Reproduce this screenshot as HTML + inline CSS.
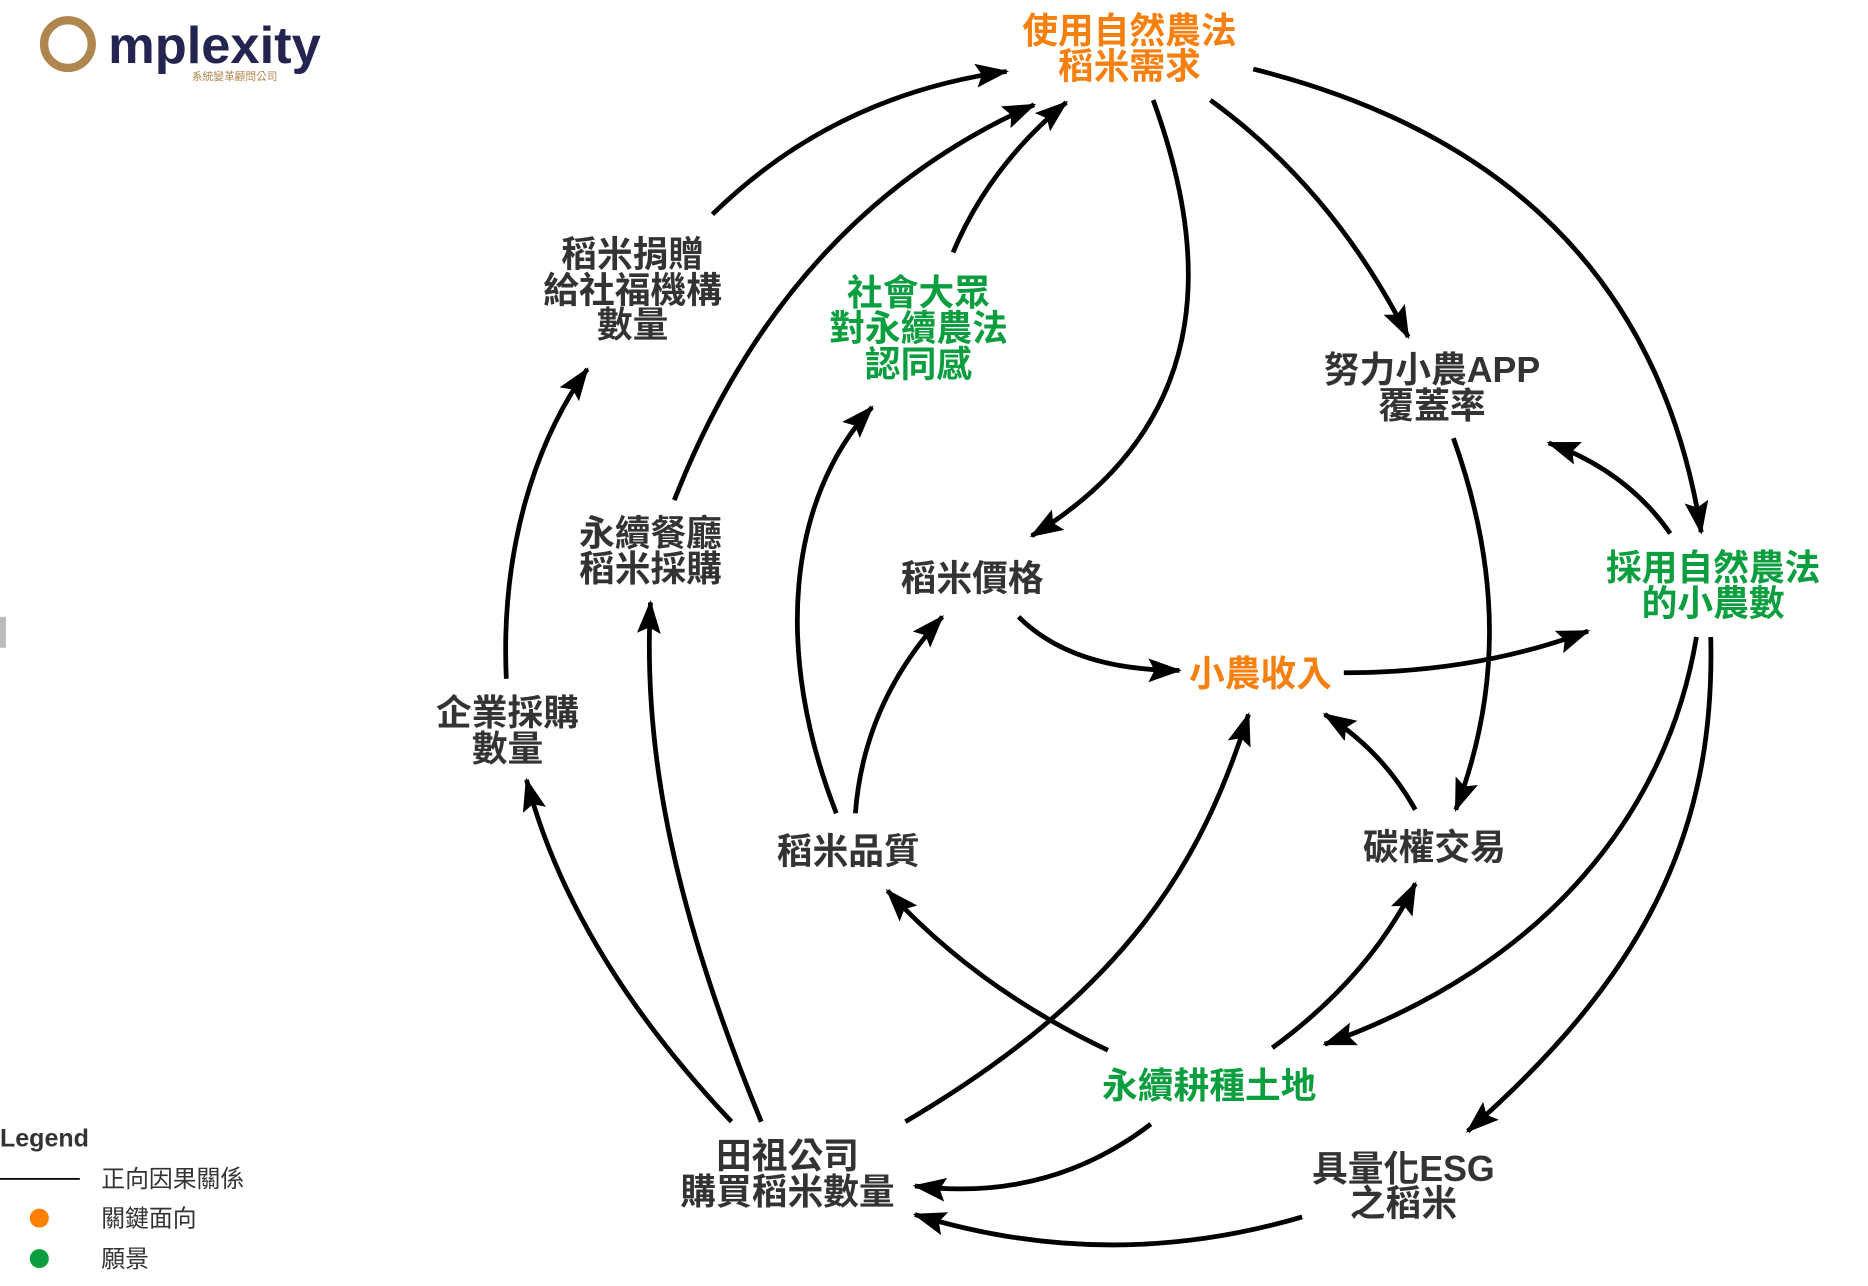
<!DOCTYPE html>
<html><head><meta charset="utf-8"><style>
html,body{margin:0;padding:0;background:#fff;width:1868px;height:1286px;overflow:hidden}
svg{display:block}
text{font-family:"Liberation Sans","Noto Sans CJK TC",sans-serif;font-weight:bold;text-anchor:middle}
.d{fill:#333}.o{fill:#f5800f}.g{fill:#0a9e3f}
path.e{fill:none;stroke:#000;stroke-width:4;marker-end:url(#a)}
</style></head><body>
<svg width="1868" height="1286" viewBox="0 0 1568 1080" preserveAspectRatio="none">
<defs><marker id="a" markerUnits="userSpaceOnUse" markerWidth="30" markerHeight="24" refX="26" refY="10" orient="auto"><path d="M0,0 L28,10 L0,20 L5,10 Z" fill="#000"/></marker></defs>
<!-- logo -->
<circle cx="57" cy="37" r="20" fill="none" stroke="#b08650" stroke-width="7"/>
<text x="180" y="53" style="font-size:44px;fill:#232550;font-family:'Liberation Sans',sans-serif" >mplexity</text>
<text x="197" y="67" style="font-size:9px;fill:#b08650;font-weight:normal">系統變革顧問公司</text>
<rect x="0" y="518" width="5" height="26" fill="#bbb"/>
<!-- edges -->
<path class="e" d="M598,180 Q700,80 845,60"/>
<path class="e" d="M566,420 Q660,180 868,88"/>
<path class="e" d="M800,212 Q830,140 895,86"/>
<path class="e" d="M968,84 C1010,200 1030,350 866,450"/>
<path class="e" d="M1016,84 Q1120,160 1182,283"/>
<path class="e" d="M1052,58 Q1380,140 1428,447"/>
<path class="e" d="M1220,368 C1260,480 1260,580 1222,680"/>
<path class="e" d="M1402,448 Q1365,395 1300,372"/>
<path class="e" d="M855,518 Q900,563 990,563"/>
<path class="e" d="M1128,565 Q1240,565 1333,530"/>
<path class="e" d="M1188,680 Q1160,630 1112,600"/>
<path class="e" d="M718,683 Q725,590 791,518"/>
<path class="e" d="M702,683 C650,550 660,420 732,342"/>
<path class="e" d="M425,570 C420,460 450,370 493,310"/>
<path class="e" d="M614,942 Q480,800 442,655"/>
<path class="e" d="M639,942 C560,750 540,620 546,506"/>
<path class="e" d="M760,942 C950,830 1010,720 1048,600"/>
<path class="e" d="M930,882 Q820,830 745,748"/>
<path class="e" d="M1068,880 Q1150,820 1188,742"/>
<path class="e" d="M1424,535 C1400,680 1300,810 1112,877"/>
<path class="e" d="M1436,535 C1440,700 1380,820 1232,950"/>
<path class="e" d="M966,944 Q880,1010 768,996"/>
<path class="e" d="M1093,1022 Q930,1070 768,1020"/>
<!-- nodes -->
<g style="font-size:30px">
<text class="o" x="948" y="36">使用自然農法</text><text class="o" x="948" y="66">稻米需求</text>
<text class="d" x="531" y="224">稻米捐贈</text><text class="d" x="531" y="254">給社福機構</text><text class="d" x="531" y="283">數量</text>
<text class="g" x="771" y="256">社會大眾</text><text class="g" x="771" y="286">對永續農法</text><text class="g" x="771" y="316">認同感</text>
<text class="d" x="1202" y="321">努力小農APP</text><text class="d" x="1202" y="351">覆蓋率</text>
<text class="d" x="546" y="458">永續餐廳</text><text class="d" x="546" y="488">稻米採購</text>
<text class="d" x="816" y="496">稻米價格</text>
<text class="g" x="1438" y="487">採用自然農法</text><text class="g" x="1438" y="517">的小農數</text>
<text class="o" x="1058" y="576">小農收入</text>
<text class="d" x="426" y="609">企業採購</text><text class="d" x="426" y="639">數量</text>
<text class="d" x="712" y="725">稻米品質</text>
<text class="d" x="1204" y="722">碳權交易</text>
<text class="g" x="1015" y="922">永續耕種土地</text>
<text class="d" x="661" y="981">田祖公司</text><text class="d" x="661" y="1011">購買稻米數量</text>
<text class="d" x="1178" y="992">具量化ESG</text><text class="d" x="1178" y="1021">之稻米</text>
</g>
<!-- legend -->
<text x="0" y="963" style="font-size:21px;text-anchor:start" class="d">Legend</text>
<line x1="0" y1="990" x2="67" y2="990" stroke="#000" stroke-width="1.5"/>
<g style="font-size:20px;font-weight:normal">
<text x="85" y="997" class="d" style="text-anchor:start;font-weight:normal">正向因果關係</text>
<text x="85" y="1030" class="d" style="text-anchor:start;font-weight:normal">關鍵面向</text>
<text x="85" y="1064" class="d" style="text-anchor:start;font-weight:normal">願景</text>
</g>
<ellipse cx="33" cy="1023" rx="8" ry="8" fill="#ff8000"/>
<ellipse cx="33" cy="1057" rx="8" ry="8" fill="#0a9e3f"/>
</svg>
</body></html>
